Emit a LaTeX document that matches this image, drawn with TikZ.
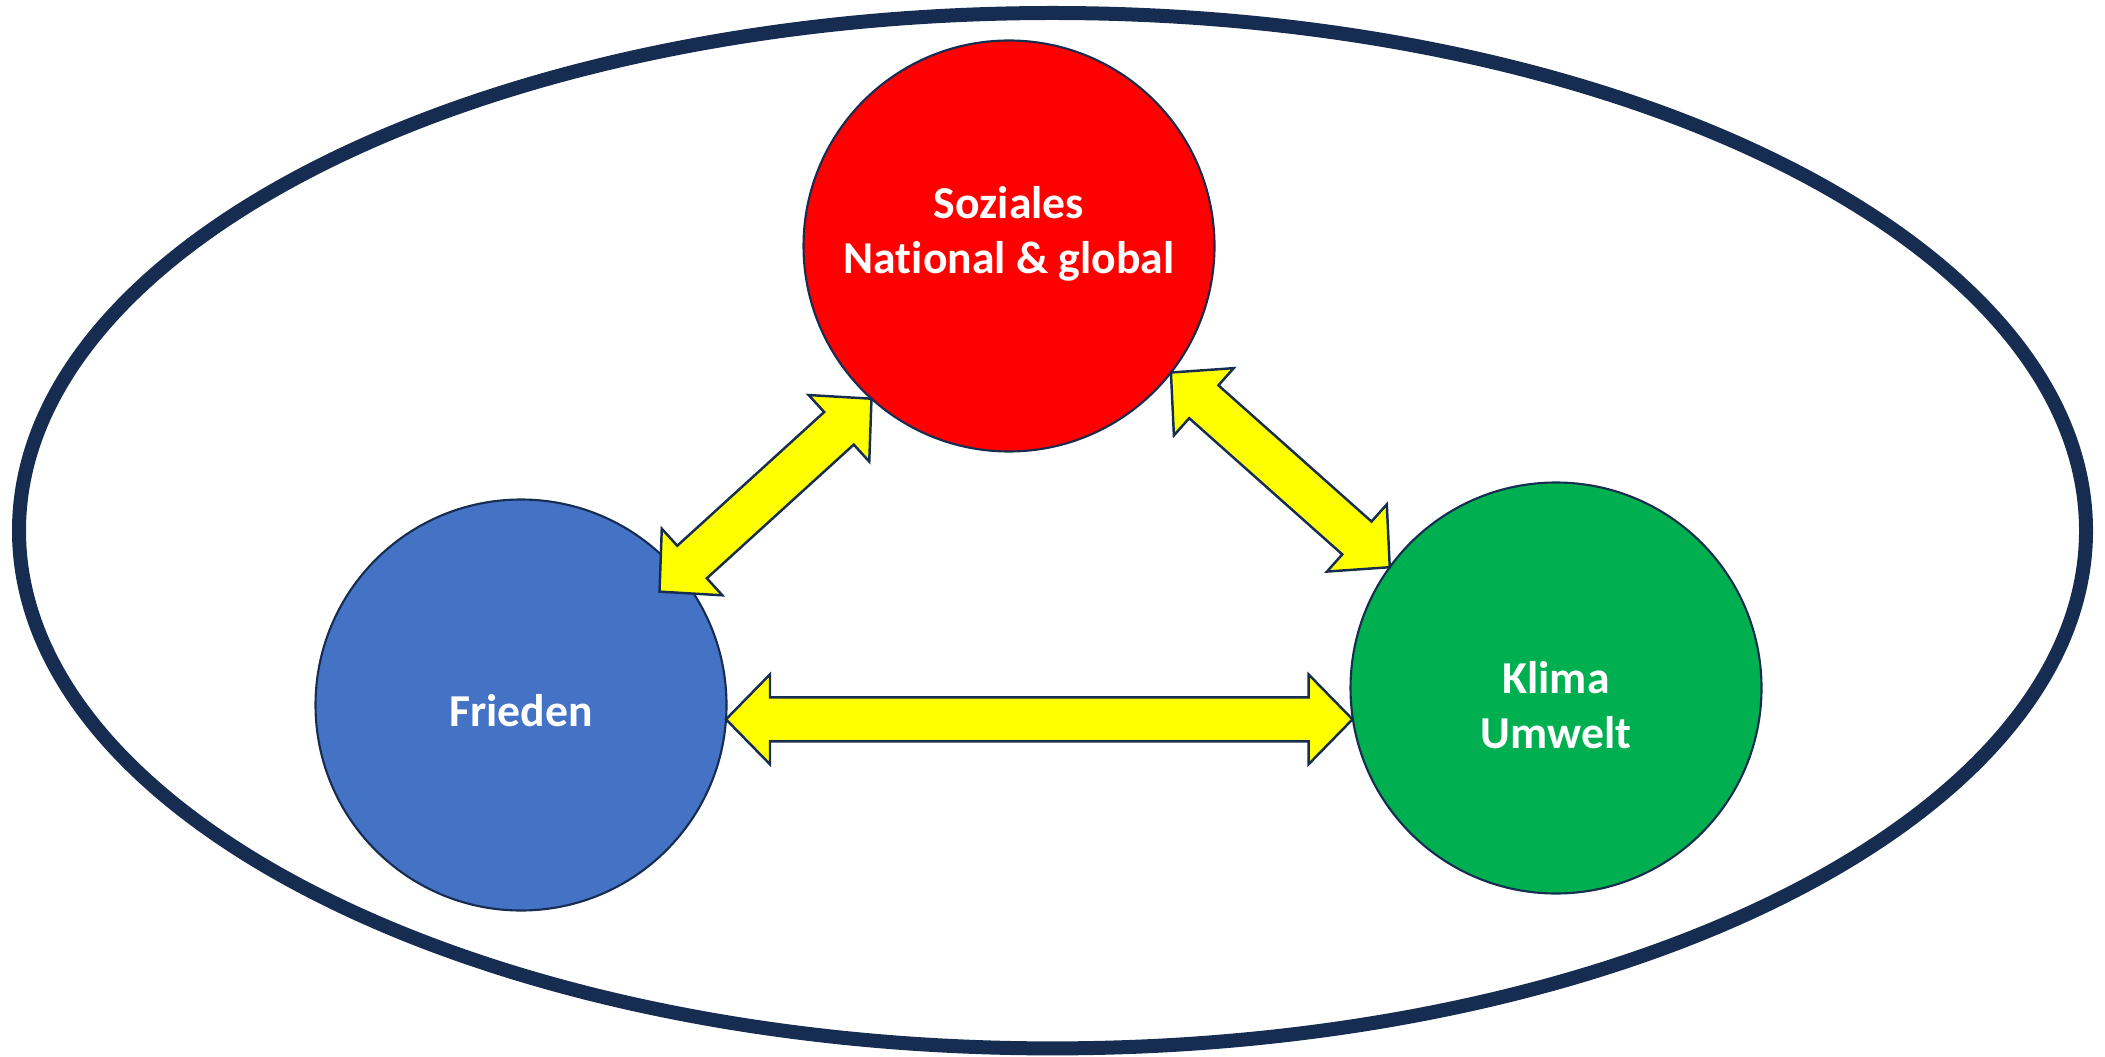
\documentclass[tikz,border=0pt]{standalone}
\usepackage{fontspec}
\setmainfont{Carlito}[Ligatures=NoCommon]
\usetikzlibrary{calc}

\definecolor{framenavy}{HTML}{172C51}
\definecolor{sozred}{HTML}{FF0000}
\definecolor{friblue}{HTML}{4472C4}
\definecolor{kligreen}{HTML}{00B050}
\definecolor{linkyellow}{HTML}{FFFF00}

% fat double arrow between two tips
\newcommand{\twowayarrow}[2]{%
  \coordinate (ha) at ($(#1)!0.44cm!(#2)$);
  \coordinate (hb) at ($(#2)!0.44cm!(#1)$);
  \draw[linkarrow] (#1) -- ($(ha)!0.45cm!90:(#2)$) -- ($(ha)!0.22cm!90:(#2)$)
    -- ($(hb)!0.22cm!-90:(#1)$) -- ($(hb)!0.45cm!-90:(#1)$) -- (#2)
    -- ($(hb)!0.45cm!90:(#1)$) -- ($(hb)!0.22cm!90:(#1)$)
    -- ($(ha)!0.22cm!-90:(#2)$) -- ($(ha)!0.45cm!-90:(#2)$) -- cycle;
}

\begin{document}
\begin{tikzpicture}[
    every node/.style={font=\bfseries\fontsize{13}{15.8}\selectfont},
    bubble/.style={circle, draw=framenavy, line width=0.6pt, minimum size=4.11cm, inner sep=0pt, outer sep=0pt},
    lbl/.style={text=white, align=center, inner sep=0pt},
    linkarrow/.style={draw=framenavy, line width=0.7pt, fill=linkyellow, line join=miter},
]
\useasboundingbox (0,0) rectangle (21.05,10.56);

% ---- Outer frame ----
\draw[framenavy, line width=0.14cm] (10.525,5.253) ellipse [x radius=10.335cm, y radius=5.177cm];

% ---- Circles ----
\node[bubble, fill=sozred, label={[lbl, yshift=0.12cm]center:Soziales\\National \& global}] (soz) at (10.09,8.10) {};
\node[bubble, fill=friblue, label={[lbl, yshift=-0.06cm]center:Frieden}] (fri) at (5.21,3.51) {};
\node[bubble, fill=kligreen, label={[lbl, yshift=-0.17cm]center:Klima\\Umwelt}] (kli) at (15.56,3.68) {};

% ---- Arrows ----
\coordinate (fritip) at ($(fri.center)+(39.3:1.79)$);
\coordinate (hl) at (fri.356);
\coordinate (hr) at (hl -| kli.188);

\twowayarrow{fritip}{soz.228}
\twowayarrow{soz.322}{kli.144}
\twowayarrow{hl}{hr}

\end{tikzpicture}
\end{document}
